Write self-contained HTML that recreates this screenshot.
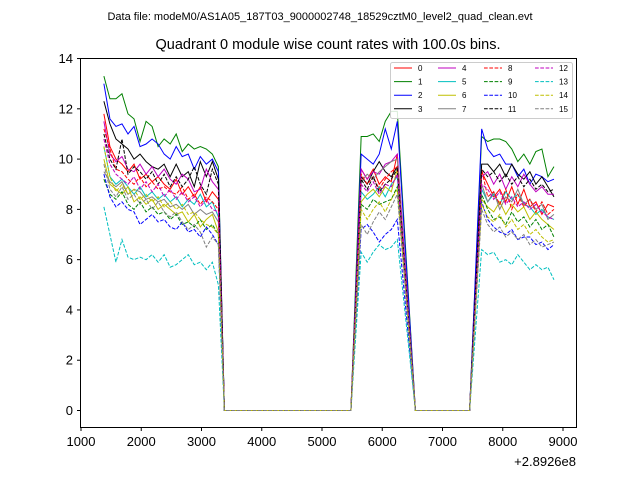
<!DOCTYPE html>
<html><head><meta charset="utf-8"><style>
body{margin:0;background:#fff;}
svg text{font-family:"Liberation Sans","DejaVu Sans",sans-serif;}
</style></head><body>
<svg id="chart" width="640" height="480" xmlns="http://www.w3.org/2000/svg">
<rect width="640" height="480" fill="#fff"/>
<text x="320" y="20" font-size="11" text-anchor="middle">Data file: modeM0/AS1A05_187T03_9000002748_18529cztM0_level2_quad_clean.evt</text>
<text x="328" y="49" font-size="14.5" text-anchor="middle">Quadrant 0 module wise count rates with 100.0s bins.</text>
<g id="plot"></g>
<rect x="80.5" y="58.5" width="496" height="369" fill="none" stroke="#000" stroke-width="1"/>
<g id="axes"></g>
<text x="576" y="466" font-size="13" text-anchor="end">+2.8926e8</text>
<g id="legend"></g>
</svg>
<script>
const times=[1380,1480,1580,1680,1780,1880,1980,2080,2180,2280,2380,2480,2580,2680,2780,2880,2980,3080,3180,3280,3380,5480,5650,5750,5850,5950,6050,6150,6250,6550,7450,7650,7750,7850,7950,8050,8150,8250,8350,8450,8550,8650,8750,8850];
const zeros1=[0,0];
const zeros2=[0,0];
const s0A=[11.8,10.5,10.0,9.8,9.5,9.8,9.2,9.4,9.1,9.3,9.0,8.8,9.2,8.6,8.9,8.5,8.9,8.3,8.7,8.4];
const s1A=[13.3,12.4,12.4,12.6,11.8,11.6,10.7,11.5,11.3,10.5,10.8,10.6,11.0,10.3,10.6,10.4,10.5,10.4,10.2,9.7];
const s2A=[13.0,11.6,11.3,11.4,11.0,11.3,10.5,10.6,10.8,10.6,10.2,10.0,10.5,10.1,10.2,9.6,10.1,9.8,10.0,9.5];
const s3A=[12.3,11.4,10.8,10.6,10.4,10.0,10.2,9.9,9.7,9.6,9.8,9.3,9.8,9.3,9.5,8.9,9.9,9.3,9.9,9.2];
const s4A=[11.5,10.2,9.9,10.1,9.6,9.5,9.8,9.4,9.7,9.3,9.6,9.2,9.0,9.4,9.2,8.7,8.8,9.6,9.1,8.8];
const s5A=[10.5,9.3,9.0,9.2,8.9,8.6,8.9,8.5,8.7,8.4,8.6,8.3,8.5,8.1,8.4,8.2,8.6,8.1,8.3,7.7];
const s6A=[10.0,9.0,8.8,8.6,8.9,8.3,8.5,8.2,8.4,8.0,8.2,8.0,7.8,7.9,7.5,7.8,7.3,7.6,7.8,7.1];
const s7A=[9.5,9.1,8.9,9.1,8.6,8.8,8.7,8.4,8.5,8.3,8.4,8.1,8.2,8.0,8.2,7.8,8.0,7.8,7.9,7.5];
const s8A=[11.2,10.4,9.6,9.5,9.2,9.0,9.3,8.9,9.1,8.8,8.9,8.7,8.6,8.9,8.4,8.6,8.2,8.5,8.3,8.0];
const s9A=[9.2,8.6,8.4,8.7,8.2,8.0,8.3,7.9,8.1,7.8,7.9,7.6,7.8,7.4,7.5,7.3,7.6,7.2,7.4,7.0];
const s10A=[9.4,8.5,8.1,8.3,8.0,7.9,7.4,7.6,7.8,7.5,7.6,7.3,7.2,7.5,7.1,7.2,6.9,7.3,7.0,6.6];
const s11A=[11.0,10.0,9.6,10.8,9.4,9.7,9.5,9.2,9.5,9.0,9.4,8.9,9.3,8.9,9.2,9.7,9.0,8.6,9.6,9.0];
const s12A=[10.8,9.8,9.4,9.2,9.0,9.3,8.8,9.1,8.7,9.0,8.5,8.8,8.4,8.7,8.3,8.5,8.1,8.4,8.0,7.9];
const s13A=[8.1,7.0,5.9,6.8,6.1,6.0,6.1,6.0,6.2,5.9,6.2,5.7,5.8,6.0,6.2,5.8,5.9,5.6,5.9,5.0];
const s14A=[10.5,9.3,8.7,9.0,8.6,8.8,8.4,8.6,8.3,8.5,8.1,8.3,8.0,8.2,7.8,7.9,7.6,7.4,7.3,7.0];
const s15A=[9.8,8.8,8.5,8.9,8.4,8.6,8.2,8.4,8.0,8.3,7.9,7.7,7.9,7.5,7.2,7.4,7.1,6.5,6.9,6.6];
const s0B=[9.6,9.2,9.6,9.0,9.3,9.1,10.2];
const s1B=[10.9,10.9,11.0,10.7,11.5,11.9,11.9];
const s2B=[10.2,10.0,9.8,10.2,11.2,10.4,11.5];
const s3B=[9.3,9.0,9.5,9.9,9.5,9.3,9.7];
const s4B=[9.6,9.2,9.5,9.4,9.8,9.9,10.2];
const s5B=[8.7,8.4,8.6,8.9,8.5,9.0,9.3];
const s6B=[8.3,8.6,8.8,8.5,8.9,8.7,9.6];
const s7B=[9.1,9.4,9.2,9.5,9.7,9.9,10.0];
const s8B=[9.4,9.0,9.3,8.8,9.2,9.5,9.7];
const s9B=[8.2,8.0,8.4,8.2,8.3,8.4,8.9];
const s10B=[7.2,7.4,7.1,6.7,7.0,7.2,7.6];
const s11B=[9.2,8.8,9.3,8.7,9.0,9.2,9.6];
const s12B=[9.0,8.7,9.1,8.6,9.0,8.9,9.4];
const s13B=[6.3,5.9,6.3,6.6,6.4,6.5,6.8];
const s14B=[8.0,7.6,8.0,8.3,7.9,8.4,8.8];
const s15B=[7.4,7.0,7.5,7.9,7.6,8.1,8.6];
const s0C=[9.5,9.0,8.5,8.8,8.3,8.9,8.2,8.8,8.1,8.3,7.8,8.2,8.1];
const s1C=[10.9,10.7,10.8,10.8,10.7,10.4,9.9,10.2,9.8,10.3,10.4,9.3,9.7];
const s2C=[11.2,10.4,10.1,10.2,9.8,9.8,9.3,9.6,9.0,9.4,9.3,9.1,9.2];
const s3C=[9.8,9.8,9.5,9.8,9.3,9.8,9.4,9.2,9.5,9.0,9.3,8.9,8.5];
const s4C=[9.3,9.5,9.0,9.4,8.8,9.3,8.9,9.4,9.0,8.7,8.9,8.6,8.6];
const s5C=[8.8,8.3,8.6,8.2,8.7,8.4,8.6,8.2,8.1,7.8,8.0,7.7,7.6];
const s6C=[8.4,8.1,7.9,8.3,7.8,8.2,7.9,8.1,7.6,7.9,7.6,7.4,7.2];
const s7C=[9.0,8.3,8.7,8.0,8.5,8.3,8.8,8.2,8.4,8.0,8.2,7.6,7.8];
const s8C=[9.6,8.5,8.7,8.2,8.8,8.0,8.6,8.1,8.4,7.9,8.3,7.8,8.0];
const s9C=[8.6,8.0,7.6,7.7,7.4,7.9,7.5,7.7,7.3,7.6,7.2,7.4,6.9];
const s10C=[8.3,7.6,7.3,7.1,7.0,7.2,6.8,6.9,6.9,6.6,6.7,6.4,6.6];
const s11C=[9.6,9.3,9.5,9.1,9.4,9.0,9.3,8.9,9.2,8.8,9.0,8.7,8.8];
const s12C=[9.0,8.8,8.4,8.7,8.2,8.5,8.1,8.3,8.0,8.2,7.9,7.7,7.6];
const s13C=[6.4,6.2,6.3,5.9,6.0,5.8,6.2,5.9,5.6,5.8,5.6,5.7,5.2];
const s14C=[8.2,7.7,7.5,7.8,7.3,7.6,7.2,7.4,7.0,7.2,6.9,6.7,6.8];
const s15C=[8.0,7.4,7.1,7.3,6.9,7.1,6.8,7.0,6.6,6.8,6.5,6.6,6.7];
const xTicks=[1000,2000,3000,4000,5000,6000,7000,8000,9000];
const yTicks=[0,2,4,6,8,10,12,14];
const seriesLabels=["0","1","2","3","4","5","6","7","8","9","10","11","12","13","14","15"];

const A=[s0A,s1A,s2A,s3A,s4A,s5A,s6A,s7A,s8A,s9A,s10A,s11A,s12A,s13A,s14A,s15A];
const B=[s0B,s1B,s2B,s3B,s4B,s5B,s6B,s7B,s8B,s9B,s10B,s11B,s12B,s13B,s14B,s15B];
const C=[s0C,s1C,s2C,s3C,s4C,s5C,s6C,s7C,s8C,s9C,s10C,s11C,s12C,s13C,s14C,s15C];
const colors=["#ff0000","#008000","#0000ff","#000000","#bf00bf","#00bfbf","#bfbf00","#808080","#ff0000","#008000","#0000ff","#000000","#bf00bf","#00bfbf","#bfbf00","#808080"];
const NS="http://www.w3.org/2000/svg";
const X=t=>81+(t-1000)*0.06025;
const Y=v=>410.5-v*25.14;
const plot=document.getElementById('plot'),axes=document.getElementById('axes'),legend=document.getElementById('legend');
function mk(tag,attrs,parent){const e=document.createElementNS(NS,tag);for(const k in attrs)e.setAttribute(k,attrs[k]);parent.appendChild(e);return e;}
for(let i=0;i<16;i++){
  const vals=A[i].concat(zeros1,B[i],zeros2,C[i]);
  const pts=vals.map((v,j)=>X(times[j]).toFixed(2)+','+Y(v).toFixed(2)).join(' ');
  const pl=mk('polyline',{points:pts,fill:'none',stroke:colors[i],'stroke-width':1,'stroke-dasharray':i>=8?'3.7,1.6':'none'},plot);
  
  
}
xTicks.forEach(t=>{
  const x=X(t);
  const l=mk('line',{x1:x,x2:x,y1:427.5,y2:431,stroke:'#000'},axes);
  
  
  const tx=mk('text',{x:x,y:446,'font-size':13,'text-anchor':'middle'},axes);tx.textContent=t;
  
  
});
yTicks.forEach(v=>{
  const y=Y(v);
  const l=mk('line',{x1:77,x2:80.5,y1:y,y2:y,stroke:'#000'},axes);
  
  
  const tx=mk('text',{x:73,y:y+4.5,'font-size':13,'text-anchor':'end'},axes);tx.textContent=v;
  
  
});
const box=mk('rect',{x:390.5,y:62.5,width:182,height:56,rx:2,fill:'#fff','fill-opacity':0.85,stroke:'#ccc'},legend);


const colX=[394,438,484,535];
for(let i=0;i<16;i++){
  const col=Math.floor(i/4),row=i%4;
  const x0=colX[col],y0=68+row*13.6;
  const g=mk('g',{},legend);
  
  
  mk('line',{x1:x0,x2:x0+18,y1:y0,y2:y0,stroke:colors[i],'stroke-width':1,'stroke-dasharray':i>=8?'3.7,1.6':'none'},g);
  const tx=mk('text',{x:x0+24,y:y0+3,'font-size':8},g);tx.textContent=seriesLabels[i];
}
</script>
</body></html>
